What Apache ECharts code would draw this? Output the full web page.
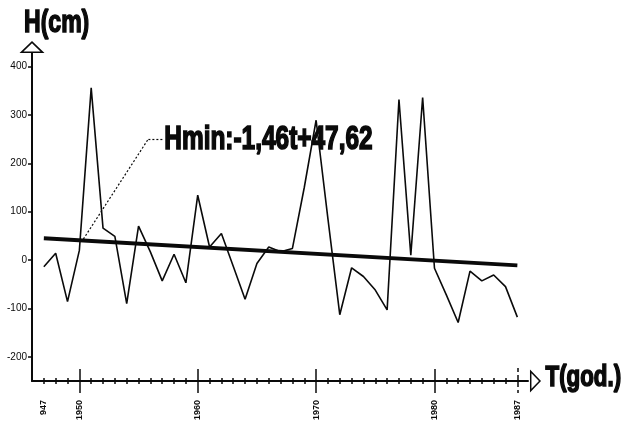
<!DOCTYPE html>
<html>
<head>
<meta charset="utf-8">
<script src="https://cdn.jsdelivr.net/npm/echarts@6/dist/echarts.min.js"></script>
<style>
  html, body { margin: 0; padding: 0; background: #ffffff; }
  #chart { width: 623px; height: 424px; }
</style>
</head>
<body>
<div id="chart"></div>
<script>
// ---- data ----
var years = [1947, 1948, 1949, 1950, 1951, 1952, 1953, 1954, 1955, 1956,
             1957, 1958, 1959, 1960, 1961, 1962, 1963, 1964, 1965, 1966,
             1967, 1968, 1969, 1970, 1971, 1972, 1973, 1974, 1975, 1976,
             1977, 1978, 1979, 1980, 1981, 1982, 1983, 1984, 1985, 1986, 1987];
var hValues = [-14, 14, -86, 20, 356, 66, 49, -90, 70, 17,
               -43, 12, -47, 134, 27, 55, -13, -81, -7, 27,
               17, 24, 150, 289, 85, -113, -16, -34, -62, -103,
               332, 10, 336, -17, -72, -129, -23, -43, -31, -55, -118];
var trendYears = [1947, 1987];
var trendValues = [45, -11];
var xLabelYears = [1947, 1950, 1960, 1970, 1980, 1987];
var xLabelTexts = ['947', '1950', '1960', '1970', '1980', '1987'];
var xMajorYears = [1950, 1960, 1970, 1980];
var xEndYears = [1987];
var xMinorYears = [1947, 1948, 1949, 1951, 1952, 1953, 1954, 1955, 1956, 1957, 1958, 1959,
                   1961, 1962, 1963, 1964, 1965, 1966, 1967, 1968, 1969,
                   1971, 1972, 1973, 1974, 1975, 1976, 1977, 1978, 1979,
                   1981, 1982, 1983, 1984, 1985, 1986];
var yTickValues = [-200, -100, 0, 100, 200, 300, 400];
var yAxisTitle = 'H(cm)';
var xAxisTitle = 'T(god.)';
var equationText = 'Hmin:-1,46t+47,62';

// ---- styling ----
var INK = '#0a0a0a';
var SANS = '"Liberation Sans", Arial, sans-serif';
var openTri = 'path://M12.5,0L25,12L0,12Z M12.5,2.22L3.97,10.4L21.03,10.4Z';

var XMIN = 1946, XMAX = 1987.9, YMIN = -250, YMAX = 428;
var EQ_ANCHOR = [1957.05, 250.4];

function xTickAxis(values, inside, len, type) {
  return {
    type: 'value', position: 'bottom', min: XMIN, max: XMAX,
    axisLine: { show: false, onZero: false },
    axisTick: { show: true, inside: inside, length: len, customValues: values,
                lineStyle: { color: INK, width: 1.5, type: type || 'solid' } },
    axisLabel: { show: false },
    splitLine: { show: false }
  };
}

var lineData = years.map(function (y, i) { return [y, hValues[i]]; });
var trendData = trendYears.map(function (y, i) { return [y, trendValues[i]]; });

var chart = echarts.init(document.getElementById('chart'), null, { renderer: 'canvas' });
chart.setOption({
  animation: false,
  backgroundColor: '#ffffff',
  grid: { left: 32, right: 95, top: 53, bottom: 43, containLabel: false, outerBoundsMode: 'none' },
  xAxis: [
    {
      type: 'value', position: 'bottom', min: XMIN, max: XMAX,
      axisLine: { show: true, onZero: false, symbol: ['none', openTri],
                  symbolSize: [23, 15], symbolOffset: [0, 7.5],
                  lineStyle: { color: INK, width: 2 } },
      axisTick: { show: true, inside: false, length: 3, customValues: xMinorYears,
                  lineStyle: { color: INK, width: 1.5 } },
      axisLabel: {
        show: true, customValues: xLabelYears, rotate: 90, margin: 19,
        fontFamily: SANS, fontWeight: 'bold', fontSize: 9, color: INK,
        formatter: function (v) {
          var i = xLabelYears.indexOf(Math.round(v));
          return i >= 0 ? xLabelTexts[i] : '';
        }
      },
      splitLine: { show: false }
    },
    xTickAxis(xMinorYears, true, 3),
    xTickAxis(xMajorYears, false, 12),
    xTickAxis(xMajorYears, true, 12),
    xTickAxis(xEndYears, false, 12, 'dashed'),
    xTickAxis(xEndYears, true, 13, 'dashed')
  ],
  yAxis: {
    type: 'value', min: YMIN, max: YMAX,
    axisLine: { show: true, onZero: false, symbol: ['none', openTri],
                symbolSize: [25, 12], symbolOffset: [0, 6],
                lineStyle: { color: INK, width: 2 } },
    axisTick: { show: true, inside: false, length: 4, customValues: yTickValues,
                lineStyle: { color: INK, width: 1.5 } },
    axisLabel: { show: true, customValues: yTickValues, margin: 5,
                 fontFamily: SANS, fontSize: 10, color: INK },
    splitLine: { show: false }
  },
  series: [
    {
      name: 'H', type: 'line', xAxisIndex: 0, data: lineData,
      symbol: 'none', smooth: false,
      lineStyle: { color: INK, width: 1.6 }
    },
    {
      name: 'trend', type: 'line', xAxisIndex: 0, data: trendData,
      symbol: 'none',
      lineStyle: { color: INK, width: 4 },
      markLine: {
        silent: true, symbol: ['none', 'none'],
        label: { show: false },
        lineStyle: { color: INK, width: 1.2, type: [2, 2] },
        data: [
          [{ coord: [1950.34, 43.4] }, { coord: [1955.83, 250.4] }],
          [{ coord: [1955.83, 250.4] }, { coord: EQ_ANCHOR }]
        ]
      }
    }
  ]
});

// condensed heavy lettering: place texts, anchored via the chart's own scales
var eqPt = chart.convertToPixel({ xAxisIndex: 0, yAxisIndex: 0 }, EQ_ANCHOR);
var axEnd = chart.convertToPixel({ xAxisIndex: 0, yAxisIndex: 0 }, [XMAX, YMIN]);
function bigText(txt, x, y, size, sx) {
  return {
    type: 'text', x: x, y: y, scaleX: sx, silent: true, z: 100,
    style: { text: txt, fontFamily: SANS, fontWeight: 'bold', fontSize: size,
             fill: INK, stroke: INK, lineWidth: 1.6, align: 'left', verticalAlign: 'middle' }
  };
}
chart.setOption({
  graphic: [
    bigText(yAxisTitle, 24, 23.5, 32, 0.72),
    bigText(equationText, eqPt[0] + 1.5, eqPt[1] + 1, 33, 0.74),
    bigText(xAxisTitle, axEnd[0] + 17.5, axEnd[1] - 3, 29, 0.77)
  ]
});
</script>
</body>
</html>
